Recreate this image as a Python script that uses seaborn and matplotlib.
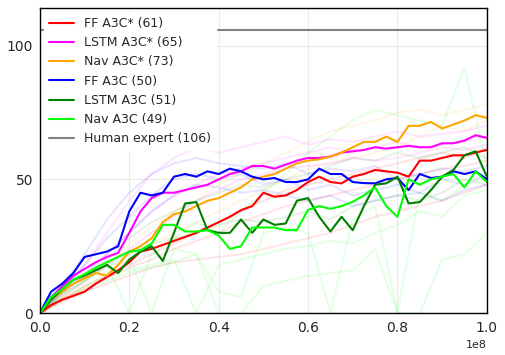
import numpy as np
import seaborn as sns
import matplotlib
matplotlib.use('Agg')
import matplotlib.pyplot as plt

# training steps for the averaged curves (41 points) and the single runs (21 points)
steps = np.linspace(0, 1e8, 41)
run_steps = np.linspace(0, 1e8, 21)

labels = ['FF A3C* (61)', 'LSTM A3C* (65)', 'Nav A3C* (73)',
          'FF A3C (50)', 'LSTM A3C (51)', 'Nav A3C (49)']
colors = ['#ff0000', '#ff00ff', '#ffa500', '#0000ff', '#008000', '#00ff00']

ff_star = [0, 3, 5, 6.5, 8, 11, 13.5, 16, 19, 23, 24, 25.5, 27, 28.5, 30, 32, 34, 36, 38.5, 40,
           45, 43.5, 44, 46, 49, 51, 49, 48.5, 51, 52, 53.5, 53, 52.5, 51, 57, 57, 58, 59, 59, 60, 61]
lstm_star = [0, 6, 10, 14, 16.5, 19, 21, 22.5, 30, 38, 43, 45, 45, 46, 47, 48, 50, 52, 53, 55,
             55, 54, 55.5, 57, 58, 58, 58.5, 60, 60.5, 61, 62, 61.5, 62, 62.5, 62, 62, 63.5, 63.5, 64.5, 66.5, 65.5]
nav_star = [0, 5, 8, 11, 13, 15, 14, 18, 23, 25, 28, 34, 37, 38, 40, 42, 43, 45, 47, 50,
            51, 52, 54, 56, 57, 57.5, 58.5, 60, 62, 64, 64, 66, 64, 70, 70, 71.5, 69, 70.5, 72, 74, 73]
ff = [0, 8, 11, 15, 21, 22, 23, 25, 38, 45, 44, 45, 51, 52, 51, 53, 52, 54, 53, 51,
      50, 50.5, 49, 49, 50, 54, 52, 52, 49, 48.6, 48.5, 50, 50.5, 46, 52, 50.5, 51, 53, 52, 53, 50]
lstm = [0, 5, 9, 12.5, 14, 16, 18, 15, 20, 23, 25, 19.5, 30, 41, 41.5, 31, 30, 30, 35, 30,
        35, 33, 33.5, 42, 43, 36, 30.5, 36, 31, 40, 48, 48.5, 51, 41, 41.5, 46, 51, 53.5, 59, 60.5, 51]
nav = [0, 6, 9, 12.5, 14.5, 17, 19, 21, 23, 23.5, 26, 33, 33, 30.5, 30.5, 31, 29, 24, 25, 32,
       32, 32, 31, 31, 38.6, 40, 39, 40, 41.6, 44, 47, 40, 36, 50, 48, 50, 51, 52, 47, 53, 49]

# single training runs shown faintly behind the mean curves
ff_star_runs = [
    [0, 5, 10, 14, 18, 22, 26, 30, 34, 38, 42, 46, 48, 50, 52, 54, 56, 58, 60, 58, 62],
    [0, 4, 8, 11, 14, 17, 19, 20, 21, 22, 24, 26, 28, 30, 33, 36, 38, 40, 42, 45, 48],
    [0, 5, 9, 13, 17, 20, 24, 27, 30, 34, 37, 40, 42, 44, 46, 48, 50, 52, 54, 55, 57],
]
lstm_star_runs = [
    [0, 8, 18, 30, 42, 52, 58, 62, 60, 62, 64, 66, 63, 65, 64, 66, 68, 66, 67, 68, 70],
    [0, 7, 14, 22, 30, 38, 44, 48, 52, 54, 56, 58, 60, 62, 60, 62, 64, 62, 63, 64, 66],
    [0, 6, 12, 18, 24, 30, 36, 42, 46, 50, 52, 54, 55, 56, 58, 57, 58, 60, 62, 61, 63],
]
nav_star_runs = [
    [0, 6, 12, 18, 26, 32, 38, 42, 48, 52, 56, 60, 64, 68, 70, 72, 75, 76, 74, 76, 78],
    [0, 5, 10, 15, 20, 26, 30, 34, 38, 42, 46, 50, 54, 56, 58, 60, 62, 66, 70, 68, 72],
]
ff_runs = [
    [0, 10, 22, 35, 45, 52, 56, 58, 56, 55, 54, 56, 52, 54, 53, 55, 50, 52, 54, 53, 55],
    [0, 9, 18, 28, 36, 44, 50, 52, 50, 52, 48, 50, 46, 48, 44, 46, 48, 45, 50, 48, 52],
    [0, 8, 15, 22, 30, 38, 44, 48, 47, 45, 46, 44, 42, 44, 40, 42, 44, 45, 42, 46, 48],
]
lstm_runs = [
    [0, 8, 14, 20, 28, 34, 38, 42, 45, 48, 47, 50, 52, 55, 58, 57, 60, 58, 60, 62, 58],
    [0, 7, 12, 18, 22, 26, 28, 30, 33, 35, 34, 36, 38, 35, 40, 42, 44, 42, 45, 50, 48],
]
nav_runs = [
    [0, 8, 14, 18, 0, 22, 28, 34, 30, 38, 45, 52, 60, 66, 72, 76, 74, 72, 70, 92, 55],
    [0, 7, 12, 17, 21, 0, 24, 22, 8, 6, 30, 32, 30, 0, 35, 40, 0, 45, 42, 48, 50],
    [0, 6, 10, 14, 16, 18, 20, 0, 18, 20, 22, 24, 25, 27, 26, 30, 33, 38, 36, 44, 46],
    [0, 5, 9, 12, 15, 17, 19, 22, 0, 0, 10, 12, 14, 15, 16, 24, 0, 0, 20, 22, 30],
]
human_expert = 106

means = [ff_star, lstm_star, nav_star, ff, lstm, nav]
runs = [ff_star_runs, lstm_star_runs, nav_star_runs, ff_runs, lstm_runs, nav_runs]

sns.set_style('whitegrid')
fig = plt.figure(figsize=(5.05, 3.55), dpi=100)
ax = fig.add_axes([0.079, 0.118, 0.885, 0.859])

for group, c in zip(runs, colors):
    for r in group:
        sns.lineplot(x=run_steps, y=r, color=c, alpha=0.1, lw=1.5, ax=ax)

for vals, c, lab in zip(means, colors, labels):
    sns.lineplot(x=steps, y=vals, color=c, lw=1.5, label=lab, ax=ax)

ax.axhline(human_expert, color='gray', lw=1.5, label='Human expert (106)')

ax.set_xlim(0, 1e8)
ax.set_ylim(0, 114)
ax.set_yticks([0, 50, 100])
ax.grid(color='#ebebeb', lw=0.8)
for s in ax.spines.values():
    s.set_color('black')
    s.set_linewidth(1)
ax.tick_params(labelsize=10, colors='#262626', length=0)
ax.tick_params(axis='x', pad=6)
ax.tick_params(axis='y', pad=5)
ax.xaxis.get_offset_text().set_fontsize(8)

leg = ax.legend(loc='upper left', fontsize=9, frameon=True, facecolor='white',
                edgecolor='white', framealpha=1, borderaxespad=0.3)

fig.savefig('out.png', dpi=100)
